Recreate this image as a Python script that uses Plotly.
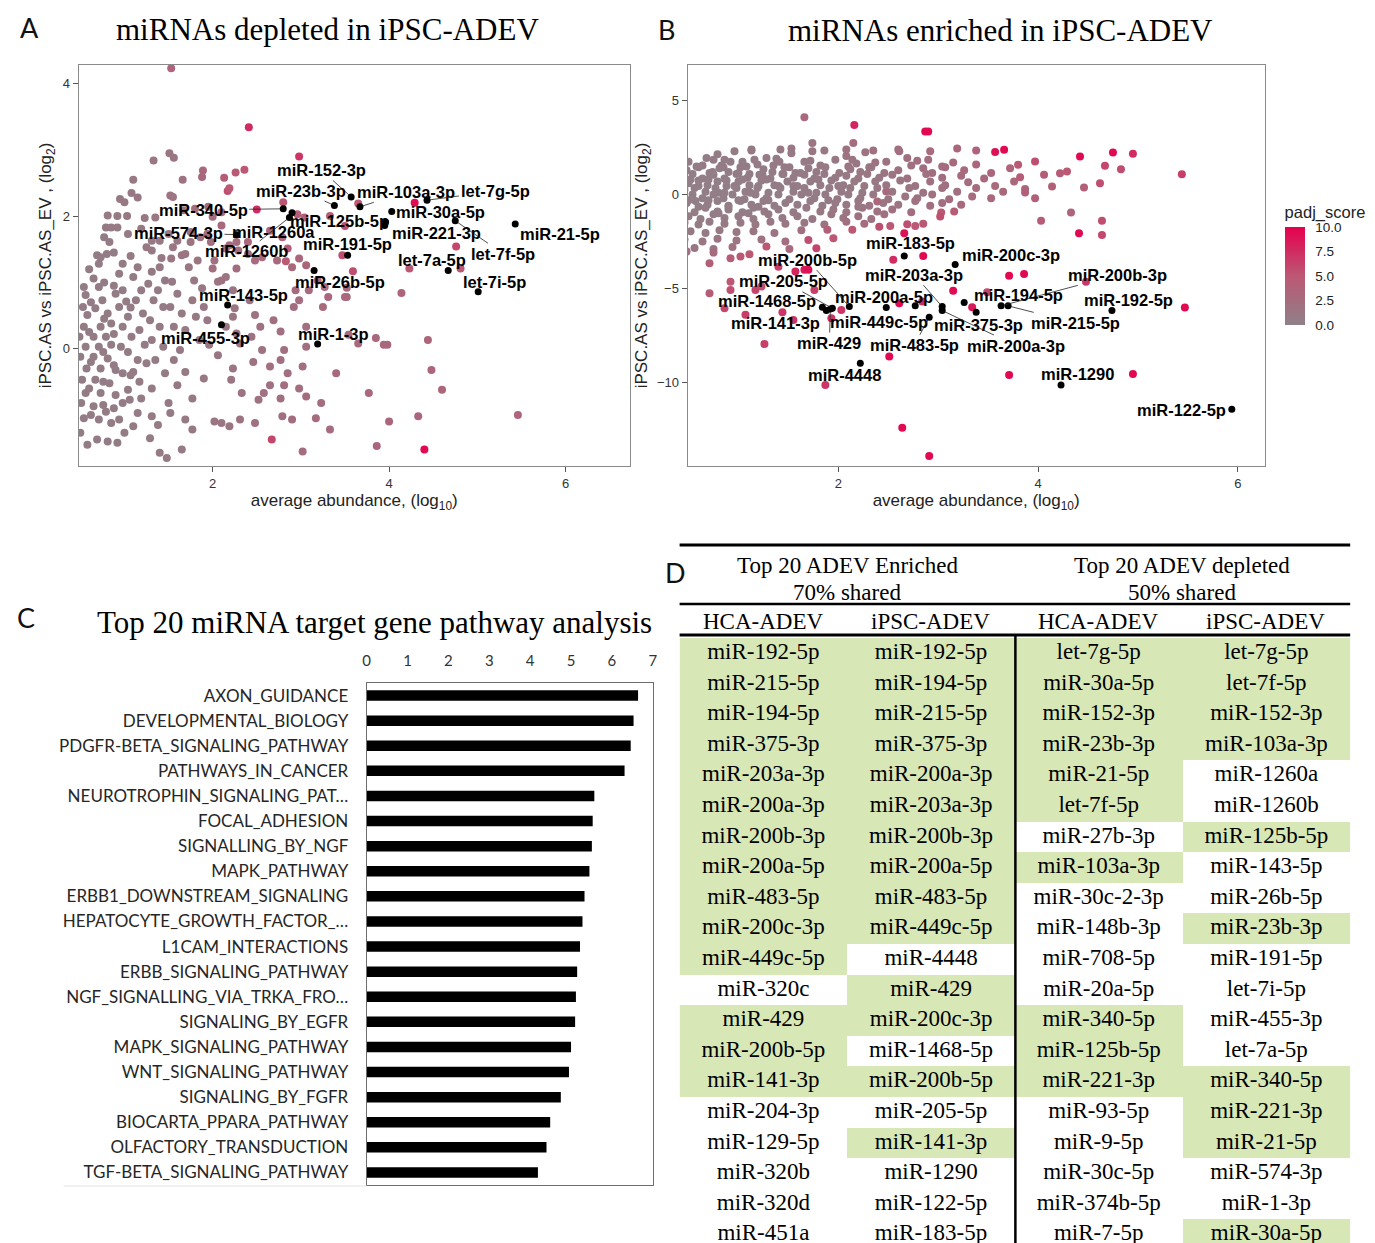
import plotly.graph_objects as go

W, H = 1375, 1243
OFF = 8  # page body margin of the html page


def px(v):
    return (v - OFF) / W


def py(v):
    return 1 - (v - OFF) / H


# ---------------- Panel A data (depleted) ----------------
a_bg_x = [
    0.54, 0.56, 0.53, 0.58, 0.54, 0.49, 0.56, 0.50, 0.57, 0.52,
    0.56, 0.51, 0.54, 0.50, 0.65, 0.71, 0.69, 0.73, 0.80, 0.83,
    0.77, 0.85, 0.71, 0.75, 0.67, 0.81, 0.73, 0.85, 0.65, 0.79,
    0.71, 0.85, 0.65, 0.81, 0.73, 0.90, 0.67, 0.83, 0.73, 0.90,
    0.65, 0.79, 0.71, 0.85, 0.69, 0.81, 0.92, 1.00, 0.94, 0.98,
    0.90, 0.98, 0.94, 1.02, 0.98, 1.04, 0.96, 1.04, 0.98, 1.04,
    0.98, 0.94, 1.15, 1.10, 1.19, 1.13, 1.21, 1.17, 1.08, 1.23,
    1.15, 1.25, 1.10, 1.17, 1.06, 1.19, 1.15, 1.31, 1.10, 1.29,
    1.40, 1.48, 1.31, 1.40, 1.27, 1.38, 1.46, 1.33, 1.44, 1.29,
    1.40, 1.31, 1.44, 1.35, 1.46, 1.31, 1.50, 1.38, 1.52, 1.54,
    1.60, 1.52, 1.65, 1.56, 1.69, 1.63, 1.56, 1.69, 1.60, 1.77,
    1.69, 1.77, 1.65, 1.73, 1.83, 1.79, 1.88, 1.77, 1.90, 1.81,
    1.94, 1.85, 1.96, 1.90, 2.06, 2.02, 2.10, 2.19, 2.06, 2.15,
    2.23, 2.25, 2.23, 2.15, 2.27, 2.31, 2.23, 2.21, 2.33, 2.31,
    2.48, 2.42, 2.48, 2.54, 2.44, 2.56, 2.65, 2.65, 2.46, 2.58,
    2.52, 2.69, 2.77, 2.81, 2.77, 2.85, 2.81, 2.77, 2.90, 2.67,
    2.79, 2.98, 2.92, 3.06, 3.06, 3.02, 2.98, 3.06, 3.23, 3.17,
    3.02, 3.33, 3.19, 3.27, 3.40, 3.52, 3.54, 3.65, 3.77, 3.85,
    3.94, 3.98, 3.86, 4.00, 4.44, 4.48, 4.33, 4.40, 4.60, 5.46,
    1.53, 2.41, 2.98, 1.51, 1.56, 1.33, 1.10, 1.08, 1.15, 0.95,
    1.00, 0.81, 0.92, 1.03, 1.23, 1.35, 1.52, 1.55, 1.66, 1.89,
    1.88, 2.13, 2.26, 2.36, 2.17, 2.19, 1.67, 1.80, 1.95, 2.00,
    2.10, 2.50, 2.80, 2.96, 3.04, 3.33, 3.50, 3.65, 4.29, 4.76,
    4.23, 4.81, 4.14, 3.47, 3.59, 3.52, 3.50, 3.31, 3.25, 3.09,
    2.94, 2.90, 2.83, 2.73, 2.56, 2.40, 2.27, 2.19, 1.98, 1.75,
    1.60, 1.40, 1.53, 1.65, 1.42, 1.31, 1.25, 0.79, 0.92, 1.04,
    1.19, 1.31, 1.50, 1.55, 1.69, 1.75, 1.86, 1.94, 2.10, 2.15,
    2.29, 2.40, 2.48, 2.65, 2.79, 2.85, 2.98, 3.06, 2.02, 2.00,
    2.27, 2.10,
    0.60, 0.62, 0.60, 0.62, 0.60, 0.62, 0.58, 0.77, 0.77, 0.76,
    0.76, 0.76, 0.88, 0.88, 0.88, 0.88, 0.88, 1.07, 1.07, 1.07,
]
a_bg_y = [
    0.93, 0.81, 0.63, 0.51, 0.33, 0.18, 0.03, -0.12, -0.30, -0.47,
    -0.67, -0.82, -1.05, -1.27, 1.06, 1.28, 1.41, 1.38, 1.43, 1.61,
    1.68, 1.83, 0.93, 0.73, 0.61, 0.53, 0.33, 0.38, 0.18, 0.18,
    0.03, 0.06, -0.12, -0.15, -0.30, -0.32, -0.47, -0.52, -0.67, -0.70,
    -0.87, -0.95, -1.07, -1.12, -1.37, -1.40, -1.42, -1.27, 1.13, 1.28,
    0.83, 0.88, 0.63, 0.71, 0.33, 0.48, 0.03, -0.05, -0.37, -0.62,
    -0.82, -1.07, 1.23, 1.08, 0.88, 0.73, 0.53, 0.28, 0.18, 0.06,
    -0.17, -0.22, -0.35, -0.50, -0.77, -0.75, -0.97, -1.02, -1.17, -1.35,
    -1.57, -1.65, 1.16, 1.23, 0.98, 0.88, 1.03, 0.73, 0.63, 0.43,
    0.33, 0.13, 0.03, -0.17, -0.37, -0.60, -0.82, -1.15, -0.97, 1.01,
    0.83, 0.63, 0.53, 0.33, 0.28, -0.02, -0.17, -0.35, -0.55, -0.75,
    -1.07, -1.22, -1.52, 1.23, 1.33, 1.03, 0.91, 0.73, 0.63, 0.48,
    0.43, 0.13, 0.06, -0.45, -0.10, -1.10, -1.12, -1.17, 1.01, 1.08,
    0.88, 0.61, 0.48, 0.33, 0.23, 0.08, -0.30, -0.47, -0.67, -1.07,
    -1.12, 0.73, 0.51, 0.33, 0.18, -0.02, -0.27, -0.55, -0.20, -0.67,
    -0.77, 0.43, 0.26, -0.02, -0.17, -0.37, -0.55, -0.75, -1.07, -1.37,
    -1.02, 0.73, 0.63, 0.33, 0.03, -0.27, -0.60, -0.72, -0.82, -1.05,
    -1.55, -1.22, 1.03, 0.93, -0.37, 0.78, 0.21, 0.08, -0.67, 0.16,
    0.06, 0.06, -1.47, -1.10, 0.13, -0.32, -1.02, -1.52, -0.62, -1.00,
    4.23, 3.34, 2.90, 2.95, 2.88, 2.84, 2.55, 2.35, 2.28, 2.26,
    2.21, 2.01, 2.00, 2.00, 1.97, 1.98, 2.31, 2.29, 2.55, 2.69,
    2.59, 2.58, 2.66, 2.70, 2.38, 2.42, 2.09, 2.11, 2.14, 1.99,
    2.06, 2.10, 2.21, 2.03, 1.98, 2.00, 1.85, 2.19, 2.20, 1.54,
    1.21, 1.21, 0.84, 1.41, 1.17, 0.92, 0.78, 0.78, 0.63, 0.88,
    0.88, 1.23, 1.32, 1.33, 1.38, 1.61, 1.61, 1.56, 1.61, 1.61,
    1.63, 1.63, 1.36, 1.41, 1.37, 1.48, 1.53, 1.83, 1.83, 1.73,
    1.81, 1.63, 1.73, 1.53, 1.43, 1.76, 1.68, 1.73, 1.86, 1.51,
    1.48, 1.43, 1.33, 1.78, 1.68, 1.51, 1.36, 1.26, 1.33, 1.21,
    1.21, 1.03,
    1.20, 0.70, 0.25, -0.20, -0.60, -1.00, -1.45, 1.00, 0.45, -0.05,
    -0.50, -0.85, 1.45, 0.95, 0.22, -0.25, -0.90, 1.40, 0.62, -0.40,
]
a_bg_s = [
    0.5, 0.5, 0.5, 0.5, 0.5, 0.5, 0.5, 0.5, 0.5, 0.5,
    0.5, 0.5, 0.5, 0.5, 0.5, 0.5, 0.5, 0.5, 0.5, 0.5,
    0.5, 0.8, 0.5, 0.5, 0.5, 0.5, 0.5, 0.5, 0.5, 0.5,
    0.5, 0.5, 0.5, 0.5, 0.5, 0.5, 0.5, 0.5, 0.5, 0.5,
    0.5, 0.5, 0.5, 0.5, 0.5, 0.5, 0.5, 0.5, 0.5, 0.5,
    0.5, 0.5, 0.5, 0.5, 0.5, 0.5, 0.5, 0.5, 0.5, 0.5,
    0.5, 0.5, 0.7, 0.6, 0.6, 0.6, 0.6, 0.6, 0.6, 0.6,
    0.6, 0.6, 0.6, 0.6, 0.6, 0.6, 0.6, 0.6, 0.6, 0.6,
    0.6, 0.6, 0.7, 0.7, 0.6, 0.6, 0.7, 0.6, 0.6, 0.6,
    0.6, 0.6, 0.6, 0.6, 0.6, 0.6, 0.7, 0.6, 0.7, 0.8,
    0.8, 0.7, 0.8, 0.7, 0.8, 0.7, 0.7, 0.8, 0.7, 0.9,
    0.8, 0.9, 0.8, 1.0, 1.2, 1.0, 1.0, 0.9, 1.0, 0.9,
    1.0, 0.9, 1.0, 1.0, 1.2, 1.2, 1.2, 1.4, 1.3, 1.4,
    1.4, 1.4, 1.3, 1.3, 1.4, 1.5, 1.4, 1.4, 1.6, 1.6,
    1.8, 1.6, 1.7, 1.8, 1.7, 1.8, 1.9, 1.9, 1.7, 1.9,
    1.8, 2.0, 2.0, 2.0, 2.0, 2.1, 2.1, 2.1, 2.2, 6.0,
    2.1, 2.3, 2.2, 2.3, 2.3, 2.3, 2.3, 2.4, 2.5, 2.5,
    2.4, 2.6, 2.6, 2.6, 2.7, 2.8, 2.8, 2.9, 3.0, 3.0,
    3.1, 3.1, 3.1, 3.2, 3.3, 3.3, 3.3, 9.5, 3.4, 3.5,
    3.5, 7.5, 7.0, 1.2, 1.2, 1.0, 1.0, 1.0, 1.0, 0.9,
    0.9, 0.8, 0.8, 0.9, 1.0, 1.0, 1.5, 1.5, 1.8, 3.0,
    3.0, 4.5, 4.5, 5.0, 5.5, 5.0, 1.6, 2.0, 2.5, 2.5,
    3.5, 7.5, 5.0, 4.5, 4.0, 4.0, 5.5, 5.0, 9.5, 6.0,
    5.0, 5.0, 3.5, 5.5, 5.5, 3.0, 3.0, 3.0, 2.8, 2.6,
    2.5, 3.0, 5.0, 3.0, 2.8, 3.0, 2.8, 2.5, 2.0, 1.5,
    1.3, 1.0, 1.2, 1.3, 1.0, 0.9, 0.9, 0.7, 0.8, 0.8,
    0.9, 0.9, 1.2, 1.2, 1.4, 1.6, 1.8, 2.0, 3.0, 2.4,
    2.5, 2.6, 2.6, 3.2, 3.5, 4.5, 3.2, 3.2, 2.0, 2.0,
    2.2, 1.8,
    0.5, 0.5, 0.5, 0.5, 0.5, 0.5, 0.5, 0.5, 0.5, 0.5,
    0.5, 0.5, 0.5, 0.5, 0.5, 0.5, 0.5, 0.6, 0.6, 0.6,
]

a_lab_names = ["miR-152-3p", "miR-23b-3p", "miR-103a-3p", "let-7g-5p", "miR-340-5p",
               "miR-30a-5p", "miR-574-3p", "miR-1260a", "miR-125b-5p", "miR-221-3p",
               "miR-21-5p", "miR-1260b", "miR-191-5p", "let-7f-5p", "let-7a-5p",
               "let-7i-5p", "miR-26b-5p", "miR-143-5p", "miR-455-3p", "miR-1-3p"]
a_lab_x = [3.57, 3.38, 3.67, 4.43, 2.80, 4.03, 2.27, 2.90, 3.96, 3.95,
           5.43, 2.87, 3.53, 4.75, 4.67, 5.01, 3.15, 2.17, 2.10, 3.19]
a_lab_y = [2.29, 2.16, 2.14, 2.24, 2.11, 2.07, 1.72, 2.05, 1.91, 1.86,
           1.88, 1.98, 1.41, 1.93, 1.18, 0.86, 1.18, 0.66, 0.36, 0.07]

# ---------------- Panel B data (enriched) ----------------
b_bg_x = [
    0.79, 0.86, 0.96, 1.13, 1.28, 1.41, 1.53, 1.72, 1.86, 2.08, 2.14, 2.27, 2.37, 2.61, 2.69, 2.79,
    0.64, 0.75, 0.85, 1.04, 1.19, 1.38, 1.51, 1.66, 1.82, 1.97, 2.18, 2.31, 2.48, 2.73, 2.90, 3.04, 3.15, 3.38,
    0.48, 0.60, 0.71, 0.81, 0.90, 1.02, 1.11, 1.25, 1.34, 1.46, 1.57, 1.70, 1.78, 1.87, 2.01, 2.12, 2.22, 2.33, 2.46, 2.60, 2.85, 2.94, 3.07, 3.26, 3.53, 3.72,
    0.45, 0.54, 0.64, 0.75, 0.86, 0.98, 1.09, 1.21, 1.32, 1.44, 1.55, 1.66, 1.76, 1.86, 1.97, 2.08, 2.20, 2.29, 2.41, 2.54, 2.69, 2.88, 3.04, 3.23, 3.46,
    0.50, 0.60, 0.69, 0.79, 0.88, 1.00, 1.11, 1.23, 1.36, 1.49, 1.59, 1.72, 1.82, 1.93, 2.05, 2.16, 2.26, 2.37, 2.48, 2.62, 2.77, 2.92, 3.07, 3.30, 3.57, 3.76,
    0.46, 0.56, 0.67, 0.77, 0.86, 0.98, 1.07, 1.19, 1.30, 1.42, 1.55, 1.66, 1.78, 1.91, 2.03, 2.12, 2.24, 2.39, 2.54, 2.71, 2.85, 3.04, 3.19, 3.38, 3.65, 3.87,
    0.45, 0.54, 0.64, 0.75, 0.85, 0.94, 1.06, 1.17, 1.28, 1.40, 1.51, 1.63, 1.76, 1.87, 1.99, 2.10, 2.22, 2.35, 2.50, 2.67, 2.79, 2.94, 3.11, 3.34, 3.53,
    0.48, 0.57, 0.69, 0.79, 0.90, 1.02, 1.13, 1.25, 1.36, 1.47, 1.59, 1.72, 1.84, 1.97, 2.08, 2.20, 2.31, 2.45, 2.60, 2.77, 2.92, 3.04, 3.23,
    0.45, 0.56, 0.67, 0.79, 0.90, 1.04, 1.15, 1.26, 1.40, 1.55, 1.68, 1.82, 1.95, 2.08, 2.24, 2.39, 2.54, 2.73,
    0.50, 0.62, 0.75, 0.86, 1.00, 1.15, 1.30, 1.44, 1.59, 1.74, 1.93, 2.05, 2.20, 2.33, 2.46,
    0.46, 0.60, 0.71, 0.86, 1.02, 1.17, 1.32, 1.47, 1.66, 1.86, 2.08, 2.26,
    0.52, 0.67, 0.81, 0.98, 1.15, 1.36, 1.63,
    0.46, 0.64, 0.79, 0.98, 1.23, 1.47,
    0.56, 0.75, 0.94, 1.51,
    1.13, 1.42, 1.53, 1.74, 2.08, 2.35, 2.60, 2.92, 3.19, 3.38,
    1.74, 2.15,
    0.50, 0.58, 0.68, 0.74, 0.83, 0.92, 1.00, 1.08, 1.16, 1.24,
    0.52, 0.60, 0.70, 0.80, 0.88, 0.96, 1.04, 1.12, 1.20, 1.28,
    0.50, 0.60, 0.70, 0.80, 0.90, 1.00, 1.10, 1.20, 1.30, 1.40,
    1.35, 1.45, 1.55, 1.62, 1.70, 1.80, 1.90, 2.00, 2.10, 2.20,
    1.66, 2.16, 2.87, 2.90, 3.57, 3.66, 4.42, 4.75, 4.95, 5.44,
    4.67, 4.83, 4.62, 4.29, 4.22, 3.97, 3.80, 3.82, 4.06, 4.14,
    4.46, 4.33, 4.64, 4.64, 4.41, 4.48, 4.03, 3.71, 3.86, 3.15,
    3.34, 3.49, 2.85, 2.66, 2.55, 2.61, 2.84, 2.51, 2.64, 2.91,
    3.71, 4.95, 5.47, 1.87, 1.26, 1.55, 1.44, 1.07, 0.86, 0.71,
    0.92, 0.92, 1.17, 1.23, 1.57, 1.66, 1.70, 1.40, 1.76, 2.03,
    1.93, 0.71, 1.02, 1.11, 0.92, 1.28, 0.75, 0.48, 1.78, 1.95,
    1.70, 1.89, 2.14, 2.41, 2.52, 2.39, 2.48, 2.69, 2.77, 2.85,
    3.03, 3.02, 3.16, 3.97, 3.87,
]
b_bg_y = [
    2.15, 1.85, 2.3, 2.4, 1.95, 1.75, 2.2, 1.8, 2.35, 2.05, 1.85, 2.25, 1.7, 2.3, 1.95, 1.8,
    1.55, 1.85, 1.45, 1.75, 1.6, 1.9, 1.45, 1.75, 1.55, 1.85, 1.65, 1.45, 1.75, 1.55, 1.85, 1.5, 1.7, 1.6,
    1.3, 1.45, 1.15, 1.4, 1.2, 1.45, 1.1, 1.35, 1.2, 1.45, 1.15, 1.4, 1.2, 1.45, 1.15, 1.35, 1.2, 1.45, 1.15, 1.3, 1.4, 1.15, 1.45, 1.3, 1.15, 1.4,
    0.95, 1.1, 0.85, 1.05, 0.85, 1.1, 0.9, 1.05, 0.85, 1.1, 0.9, 1.05, 0.85, 1.1, 0.9, 1.0, 0.85, 1.1, 0.9, 1.05, 0.85, 1.1, 0.9, 1.0, 0.85,
    0.6, 0.75, 0.5, 0.7, 0.45, 0.7, 0.5, 0.75, 0.5, 0.7, 0.45, 0.7, 0.5, 0.75, 0.5, 0.7, 0.45, 0.7, 0.5, 0.75, 0.45, 0.7, 0.5, 0.65, 0.45, 0.7,
    0.25, 0.35, 0.15, 0.35, 0.1, 0.35, 0.15, 0.35, 0.1, 0.35, 0.15, 0.35, 0.1, 0.35, 0.15, 0.35, 0.1, 0.35, 0.15, 0.35, 0.1, 0.35, 0.15, 0.35, 0.15, 0.3,
    -0.1, 0.0, -0.2, 0.0, -0.2, 0.0, -0.25, 0.0, -0.2, 0.0, -0.25, 0.0, -0.2, 0.0, -0.25, 0.0, -0.2, 0.0, -0.25, -0.1, -0.2, 0.0, -0.25, -0.1, -0.2,
    -0.45, -0.35, -0.55, -0.35, -0.6, -0.35, -0.55, -0.35, -0.6, -0.45, -0.55, -0.35, -0.6, -0.45, -0.55, -0.35, -0.6, -0.45, -0.55, -0.35, -0.6, -0.45, -0.55,
    -0.8, -0.95, -0.7, -0.9, -0.8, -0.95, -0.7, -0.9, -0.8, -0.95, -0.7, -0.9, -0.8, -0.95, -0.7, -0.9, -0.8, -0.95,
    -1.15, -1.3, -1.05, -1.25, -1.15, -1.3, -1.05, -1.25, -1.15, -1.3, -1.05, -1.25, -1.15, -1.3, -1.05,
    -1.5, -1.6, -1.45, -1.55, -1.5, -1.6, -1.45, -1.55, -1.5, -1.6, -1.45, -1.55,
    -1.95, -2.05, -1.9, -2.0, -1.95, -2.05, -1.9,
    -2.4, -2.5, -2.35, -2.45, -2.4, -2.5,
    -2.85, -2.9, -2.8, -2.9,
    2.35, 2.4, 2.45, 2.3, 2.4, 2.35, 2.4, 2.3, 2.45, 2.35,
    2.74, 2.74,
    1.75, 1.50, 1.95, 1.20, 1.55, 1.75, 1.15, 1.50, 1.85, 1.05,
    0.80, 0.45, 0.80, 0.10, 0.75, 0.45, 0.80, 0.10, 0.45, 0.80,
    -0.30, -0.65, -0.30, -1.00, -0.65, -0.30, -1.00, -0.65, -0.30, 0.45,
    1.55, 1.10, 0.45, 1.15, 0.10, 0.80, -0.30, 0.45, 1.50, -0.65,
    4.12, 3.71, 3.36, 3.36, 2.26, 2.38, 2.02, 2.24, 2.17, 1.08,
    1.53, 1.35, 0.60, 1.23, 1.14, 1.76, 1.58, 0.92, 1.05, 0.43,
    0.37, -0.96, -1.40, -2.15, -2.06, -4.64, -1.40, -4.33, -4.23, -5.12,
    -6.00, -5.20, -3.27, -2.06, -3.48, -5.79, -5.70, -8.63, -12.42, -13.93,
    -9.61, -9.56, -6.02, -10.14, -7.96, -6.68, -6.27, -6.41, -6.06, -5.26,
    -4.64, -5.08, -5.08, -4.90, -4.10, -4.01, -4.01, -3.84, -5.08, -6.15,
    -6.59, -3.66, -3.30, -3.18, -3.39, -2.77, -3.09, -3.04, -2.86, -2.33,
    -2.42, -1.88, -1.88, -1.71, -1.67, -0.37, 0.16, -1.58, -1.67, -1.56,
    -0.96, -1.17, -0.91, -0.20, 0.11,
]
b_bg_s = [
    0.5, 0.5, 0.5, 0.6, 0.6, 0.7, 0.8, 0.9, 1.0, 1.2, 1.3, 1.5, 1.6, 2.0, 2.1, 2.3,
    0.5, 0.5, 0.5, 0.5, 0.6, 0.6, 0.7, 0.8, 0.9, 1.0, 1.2, 1.4, 1.6, 2.0, 2.3, 2.5, 2.7, 3.2,
    0.4, 0.4, 0.4, 0.4, 0.5, 0.5, 0.5, 0.5, 0.5, 0.6, 0.6, 0.7, 0.7, 0.8, 0.9, 1.0, 1.1, 1.2, 1.4, 1.6, 2.0, 2.2, 2.4, 2.8, 3.2, 3.5,
    0.4, 0.4, 0.4, 0.4, 0.4, 0.5, 0.5, 0.5, 0.5, 0.6, 0.6, 0.6, 0.7, 0.7, 0.8, 0.9, 1.0, 1.1, 1.2, 1.4, 1.6, 1.9, 2.2, 2.5, 2.9,
    0.3, 0.3, 0.3, 0.3, 0.4, 0.4, 0.4, 0.4, 0.5, 0.5, 0.5, 0.6, 0.6, 0.7, 0.8, 0.8, 0.9, 1.0, 1.1, 1.3, 1.5, 1.8, 2.0, 2.4, 2.8, 3.0,
    0.3, 0.3, 0.3, 0.3, 0.3, 0.3, 0.4, 0.4, 0.4, 0.4, 0.5, 0.5, 0.5, 0.6, 0.7, 0.7, 0.8, 1.0, 1.1, 1.4, 1.6, 1.9, 2.1, 2.5, 2.9, 3.2,
    0.3, 0.3, 0.3, 0.3, 0.3, 0.3, 0.4, 0.4, 0.4, 0.4, 0.5, 0.5, 0.6, 0.6, 0.7, 0.8, 0.9, 1.0, 1.2, 1.4, 1.6, 1.9, 2.2, 2.6, 2.9,
    0.3, 0.3, 0.3, 0.4, 0.4, 0.4, 0.4, 0.5, 0.5, 0.5, 0.6, 0.6, 0.7, 0.8, 0.9, 1.0, 1.1, 1.3, 1.5, 1.8, 2.1, 2.3, 2.7,
    0.3, 0.4, 0.4, 0.4, 0.5, 0.5, 0.5, 0.6, 0.6, 0.7, 0.8, 0.9, 1.0, 1.2, 1.4, 1.6, 1.9, 2.2,
    0.4, 0.4, 0.5, 0.5, 0.6, 0.6, 0.7, 0.8, 0.9, 1.0, 1.2, 1.4, 1.6, 1.8, 2.0,
    0.5, 0.5, 0.6, 0.7, 0.8, 0.9, 1.0, 1.1, 1.3, 1.6, 2.0, 2.4,
    0.7, 0.8, 0.9, 1.0, 1.2, 1.5, 2.0,
    1.0, 1.1, 1.3, 1.5, 1.8, 2.3,
    1.3, 1.5, 1.8, 2.8,
    0.7, 0.9, 1.0, 1.2, 1.6, 1.9, 2.3, 2.8, 3.3, 3.6,
    1.5, 2.5,
    0.5, 0.5, 0.5, 0.4, 0.5, 0.5, 0.5, 0.5, 0.6, 0.5,
    0.3, 0.3, 0.3, 0.3, 0.4, 0.4, 0.4, 0.4, 0.4, 0.5,
    0.3, 0.3, 0.3, 0.4, 0.4, 0.4, 0.5, 0.5, 0.5, 0.5,
    0.7, 0.6, 0.5, 0.8, 0.6, 0.7, 0.7, 0.8, 1.2, 0.9,
    3.0, 8.0, 9.5, 9.5, 9.0, 9.5, 9.5, 9.5, 7.5, 6.5,
    6.0, 5.5, 5.5, 5.0, 4.5, 5.5, 5.0, 4.5, 4.5, 4.0,
    4.0, 3.5, 5.5, 6.0, 9.5, 7.0, 4.5, 9.5, 9.5, 9.5,
    8.5, 6.0, 9.5, 9.0, 7.5, 9.5, 7.5, 9.5, 9.5, 9.5,
    9.5, 9.5, 9.5, 7.0, 6.5, 7.0, 7.0, 6.5, 6.0, 4.5,
    5.0, 5.5, 6.0, 5.5, 8.0, 8.5, 9.0, 6.5, 6.5, 7.0,
    7.0, 4.0, 5.0, 5.0, 4.5, 5.0, 2.5, 2.0, 6.0, 5.0,
    5.5, 4.0, 5.0, 5.5, 5.0, 3.0, 2.5, 5.5, 5.0, 5.0,
    5.0, 5.5, 4.5, 4.0, 4.0,
]

b_lab_names = ["miR-183-5p", "miR-200c-3p", "miR-200b-5p", "miR-203a-3p", "miR-200b-3p",
               "miR-205-5p", "miR-200a-5p", "miR-194-5p", "miR-192-5p", "miR-1468-5p",
               "miR-215-5p", "miR-375-3p", "miR-141-3p", "miR-449c-5p", "miR-429",
               "miR-483-5p", "miR-200a-3p", "miR-4448", "miR-1290", "miR-122-5p"]
b_lab_x = [2.66, 3.17, 2.11, 3.04, 3.63, 1.94, 2.48, 3.26, 4.74, 1.84,
           3.70, 3.38, 1.88, 2.77, 1.92, 2.91, 3.04, 2.22, 4.23, 5.94]
b_lab_y = [-3.27, -3.73, -5.97, -5.97, -5.93, -6.06, -6.02, -5.75, -6.18, -6.00,
           -5.93, -6.27, -6.18, -5.93, -6.10, -6.54, -6.18, -8.99, -10.14, -11.44]

# ---------------- Panel C data ----------------
c_pathways = ["AXON_GUIDANCE", "DEVELOPMENTAL_BIOLOGY", "PDGFR-BETA_SIGNALING_PATHWAY",
              "PATHWAYS_IN_CANCER", "NEUROTROPHIN_SIGNALING_PAT…", "FOCAL_ADHESION",
              "SIGNALLING_BY_NGF", "MAPK_PATHWAY", "ERBB1_DOWNSTREAM_SIGNALING",
              "HEPATOCYTE_GROWTH_FACTOR_…", "L1CAM_INTERACTIONS", "ERBB_SIGNALING_PATHWAY",
              "NGF_SIGNALLING_VIA_TRKA_FRO…", "SIGNALING_BY_EGFR", "MAPK_SIGNALING_PATHWAY",
              "WNT_SIGNALING_PATHWAY", "SIGNALING_BY_FGFR", "BIOCARTA_PPARA_PATHWAY",
              "OLFACTORY_TRANSDUCTION", "TGF-BETA_SIGNALING_PATHWAY"]
c_values = [6.64, 6.53, 6.46, 6.31, 5.57, 5.53, 5.51, 5.45, 5.33, 5.28,
            5.22, 5.15, 5.12, 5.10, 5.00, 4.95, 4.75, 4.49, 4.40, 4.19]
c_ticks = [0, 1, 2, 3, 4, 5, 6, 7]

# ---------------- Panel D data ----------------
d_headers = ["HCA-ADEV", "iPSC-ADEV", "HCA-ADEV", "iPSC-ADEV"]
d_enr_hca = ["miR-192-5p", "miR-215-5p", "miR-194-5p", "miR-375-3p", "miR-203a-3p",
             "miR-200a-3p", "miR-200b-3p", "miR-200a-5p", "miR-483-5p", "miR-200c-3p",
             "miR-449c-5p", "miR-320c", "miR-429", "miR-200b-5p", "miR-141-3p",
             "miR-204-3p", "miR-129-5p", "miR-320b", "miR-320d", "miR-451a"]
d_enr_ipsc = ["miR-192-5p", "miR-194-5p", "miR-215-5p", "miR-375-3p", "miR-200a-3p",
              "miR-203a-3p", "miR-200b-3p", "miR-200a-5p", "miR-483-5p", "miR-449c-5p",
              "miR-4448", "miR-429", "miR-200c-3p", "miR-1468-5p", "miR-200b-5p",
              "miR-205-5p", "miR-141-3p", "miR-1290", "miR-122-5p", "miR-183-5p"]
d_dep_hca = ["let-7g-5p", "miR-30a-5p", "miR-152-3p", "miR-23b-3p", "miR-21-5p",
             "let-7f-5p", "miR-27b-3p", "miR-103a-3p", "miR-30c-2-3p", "miR-148b-3p",
             "miR-708-5p", "miR-20a-5p", "miR-340-5p", "miR-125b-5p", "miR-221-3p",
             "miR-93-5p", "miR-9-5p", "miR-30c-5p", "miR-374b-5p", "miR-7-5p"]
d_dep_ipsc = ["let-7g-5p", "let-7f-5p", "miR-152-3p", "miR-103a-3p", "miR-1260a",
              "miR-1260b", "miR-125b-5p", "miR-143-5p", "miR-26b-5p", "miR-23b-3p",
              "miR-191-5p", "let-7i-5p", "miR-455-3p", "let-7a-5p", "miR-340-5p",
              "miR-221-3p", "miR-21-5p", "miR-574-3p", "miR-1-3p", "miR-30a-5p"]
# 1 = shared (highlighted green)
g_enr_hca = [1, 1, 1, 1, 1, 1, 1, 1, 1, 1, 1, 0, 1, 1, 1, 0, 0, 0, 0, 0]
g_enr_ipsc = [1, 1, 1, 1, 1, 1, 1, 1, 1, 1, 0, 1, 1, 0, 1, 0, 1, 0, 0, 0]
g_dep_hca = [1, 1, 1, 1, 1, 1, 0, 1, 0, 0, 0, 0, 1, 1, 1, 0, 0, 0, 0, 0]
g_dep_ipsc = [1, 1, 1, 1, 0, 0, 1, 0, 0, 1, 0, 0, 0, 0, 1, 1, 1, 0, 0, 1]

# ---------------- label placement (layout only) ----------------
A_OFFSETS = {
    "miR-152-3p": (-30, -27, True), "miR-23b-3p": (-33, -15, True),
    "miR-103a-3p": (46, -15, True), "let-7g-5p": (68, -9, True),
    "miR-340-5p": (-80, 1, True), "miR-30a-5p": (49, 1, False),
    "miR-574-3p": (-58, -2, True), "miR-1260a": (-19, 19, False),
    "miR-125b-5p": (-46, -1, False), "miR-221-3p": (52, 8, False),
    "miR-21-5p": (45, 10, False), "miR-1260b": (-43, 34, True),
    "miR-191-5p": (0, -11, False), "let-7f-5p": (48, 33, True),
    "let-7a-5p": (-16, -10, False), "let-7i-5p": (16, -10, False),
    "miR-26b-5p": (26, 12, False), "miR-143-5p": (16, -10, False),
    "miR-455-3p": (-16, 13, False), "miR-1-3p": (16, -10, False),
}
B_OFFSETS = {
    "miR-183-5p": (6, -13, False), "miR-200c-3p": (56, -10, False),
    "miR-200b-5p": (-42, -47, True), "miR-203a-3p": (-28, -32, True),
    "miR-200b-3p": (116, -31, True), "miR-205-5p": (-49, -27, True),
    "miR-200a-5p": (-2, -11, False), "miR-194-5p": (54, -7, False),
    "miR-192-5p": (17, -11, False), "miR-1468-5p": (-55, -6, False),
    "miR-215-5p": (67, 17, True), "miR-375-3p": (2, 13, False),
    "miR-141-3p": (-51, 12, False), "miR-449c-5p": (-36, 16, False),
    "miR-429": (-1, 34, True), "miR-483-5p": (-15, 28, True),
    "miR-200a-3p": (74, 35, True), "miR-4448": (-16, 12, False),
    "miR-1290": (16, -11, False), "miR-122-5p": (-50, 1, False),
}

SANS = "Liberation Sans"
SERIF = "Liberation Serif"
colorscale = [[0.0, "#8f8088"], [0.5, "#bb5874"], [1.0, "#e6004f"]]

fig = go.Figure()

# Panel A
fig.add_trace(go.Scatter(x=a_bg_x, y=a_bg_y, mode="markers", xaxis="x", yaxis="y",
                         marker=dict(size=8, color=a_bg_s, coloraxis="coloraxis", line=dict(width=0)),
                         hoverinfo="skip", showlegend=False))
fig.add_trace(go.Scatter(x=a_lab_x, y=a_lab_y, mode="markers", xaxis="x", yaxis="y",
                         marker=dict(size=7, color="black"), hoverinfo="skip", showlegend=False))
# Panel B
fig.add_trace(go.Scatter(x=b_bg_x, y=b_bg_y, mode="markers", xaxis="x2", yaxis="y2",
                         marker=dict(size=8, color=b_bg_s, coloraxis="coloraxis", line=dict(width=0)),
                         hoverinfo="skip", showlegend=False))
fig.add_trace(go.Scatter(x=b_lab_x, y=b_lab_y, mode="markers", xaxis="x2", yaxis="y2",
                         marker=dict(size=7, color="black"), hoverinfo="skip", showlegend=False))
# Panel C
fig.add_trace(go.Bar(x=c_values, y=c_pathways, orientation="h", xaxis="x3", yaxis="y3",
                     marker=dict(color="black", line=dict(width=0)), width=0.42,
                     hoverinfo="skip", showlegend=False))
# Panel D
d_cols = [d_enr_hca, d_enr_ipsc, d_dep_hca, d_dep_ipsc]
d_flags = [g_enr_hca, g_enr_ipsc, g_dep_hca, g_dep_ipsc]
d_z = [[d_flags[c][r] for c in range(4)] for r in range(len(d_enr_hca))]
fig.add_trace(go.Heatmap(z=d_z, x=list(range(4)), y=list(range(len(d_enr_hca))),
                         colorscale=[[0, "#ffffff"], [1, "#d7e7b6"]], zmin=0, zmax=1,
                         showscale=False, xaxis="x4", yaxis="y4", hoverinfo="skip", xgap=0, ygap=0))
fig.add_trace(go.Scatter(
    x=[ci for ci, col in enumerate(d_cols) for _ in col],
    y=[ri for col in d_cols for ri in range(len(col))],
    text=[t for col in d_cols for t in col],
    mode="text", textposition="middle center", cliponaxis=False,
    textfont=dict(family=SERIF, size=23, color="black"),
    xaxis="x4", yaxis="y4", hoverinfo="skip", showlegend=False))

annotations = []


def add_labels(names, xs, ys, offsets, xref, yref):
    for n, x, y in zip(names, xs, ys):
        dx, dy, lead = offsets[n]
        a = dict(x=x, y=y, xref=xref, yref=yref, text="<b>" + n + "</b>",
                 font=dict(family=SANS, size=16.5, color="black"))
        if lead:
            a.update(showarrow=True, ax=dx, ay=dy, arrowhead=0, arrowwidth=0.8,
                     arrowcolor="#222", standoff=3, startstandoff=0)
        else:
            a.update(showarrow=False, xshift=dx, yshift=-dy)
        annotations.append(a)


add_labels(a_lab_names, a_lab_x, a_lab_y, A_OFFSETS, "x", "y")
add_labels(b_lab_names, b_lab_x, b_lab_y, B_OFFSETS, "x2", "y2")


def txt(text, x, y, size, family, color="black", xanchor="center"):
    annotations.append(dict(text=text, x=px(x), y=py(y), xref="paper", yref="paper",
                            xanchor=xanchor, yanchor="middle", showarrow=False,
                            font=dict(size=size, family=family, color=color)))


txt("miRNAs depleted in iPSC-ADEV", 326, 29, 31, SERIF)
txt("miRNAs enriched in iPSC-ADEV", 1003, 30, 31, SERIF)
txt("Top 20 miRNA target gene pathway analysis", 373, 622, 31, SERIF)
for letter, lx, ly in [("A", 26, 27), ("B", 667, 29), ("C", 22, 617), ("D", 676, 572)]:
    txt(letter, lx, ly, 27, "Lato", "#111")
txt("Top 20 ADEV Enriched", 849, 565, 23, SERIF)
txt("70% shared", 849, 592, 23, SERIF)
txt("Top 20 ADEV depleted", 1186, 565, 23, SERIF)
txt("50% shared", 1186, 592, 23, SERIF)
for i, hname in enumerate(d_headers):
    txt(hname, 764 + i * 168.75, 621, 23, SERIF)

shapes = [
    dict(type="line", xref="paper", yref="paper", x0=px(680), x1=px(1355), y0=py(545), y1=py(545),
         line=dict(color="black", width=3)),
    dict(type="line", xref="paper", yref="paper", x0=px(680), x1=px(1355), y0=py(604), y1=py(604),
         line=dict(color="black", width=2.5)),
    dict(type="line", xref="paper", yref="paper", x0=px(680), x1=px(1355), y0=py(635), y1=py(635),
         line=dict(color="black", width=3)),
    dict(type="line", xref="paper", yref="paper", x0=px(1018), x1=px(1018), y0=py(635), y1=0,
         line=dict(color="black", width=2.5)),
    dict(type="line", xref="paper", yref="paper", x0=px(60), x1=px(365), y0=py(1186), y1=py(1186),
         line=dict(color="#e2e2e2", width=1)),
]

tickfont = dict(family=SANS, size=13, color="#333")
titlefont = dict(family=SANS, size=17, color="#222")
scatter_axis = dict(showline=True, mirror=True, linecolor="#8a8a8a", linewidth=1,
                    ticks="outside", ticklen=5, tickcolor="#555", showgrid=False,
                    zeroline=False, tickfont=tickfont)

# table rows: 30.6 px tall, first row starts at y=638
d_rows_visible = (H - (638 - OFF)) / 30.6

fig.update_layout(
    width=W, height=H, margin=dict(l=0, r=0, t=0, b=0), autosize=False,
    paper_bgcolor="white", plot_bgcolor="white", showlegend=False,
    xaxis=dict(domain=[px(75), px(630)], range=[0.48, 6.73], tickvals=[2, 4, 6], anchor="y",
               title=dict(text="average abundance, (log<sub>10</sub>)", font=titlefont, standoff=4),
               **scatter_axis),
    yaxis=dict(domain=[py(466), py(65)], range=[-1.77, 4.28], tickvals=[0, 2, 4], anchor="x",
               title=dict(text="iPSC.AS vs iPSC.AS_EV , (log<sub>2</sub>)", font=titlefont, standoff=6),
               **scatter_axis),
    xaxis2=dict(domain=[px(688), px(1269)], range=[0.49, 6.27], tickvals=[2, 4, 6], anchor="y2",
                title=dict(text="average abundance, (log<sub>10</sub>)", font=titlefont, standoff=4),
                **scatter_axis),
    yaxis2=dict(domain=[py(466), py(65)], range=[-14.46, 6.9], tickvals=[-10, -5, 0, 5], anchor="x2",
                title=dict(text="iPSC.AS vs iPSC.AS_EV , (log<sub>2</sub>)", font=titlefont, standoff=4),
                **scatter_axis),
    xaxis3=dict(domain=[px(365), px(653)], range=[0, 7], tickvals=c_ticks, side="top", anchor="y3",
                showline=True, mirror=True, linecolor="#6e6e6e", linewidth=1, ticks="",
                showgrid=False, zeroline=False, ticklabelstandoff=10,
                tickfont=dict(family="Lato", size=15, color="#333")),
    yaxis3=dict(domain=[py(1185), py(683)], autorange="reversed", anchor="x3", type="category",
                showline=True, mirror=True, linecolor="#6e6e6e", linewidth=1, ticks="",
                showgrid=False, zeroline=False, ticklabelstandoff=14,
                tickfont=dict(family="Lato", size=17, color="#262626")),
    xaxis4=dict(domain=[px(680), px(1355)], range=[-0.5, 3.5], anchor="y4", visible=False,
                fixedrange=True),
    yaxis4=dict(domain=[0, py(638)], range=[-0.5 + d_rows_visible, -0.5], anchor="x4", visible=False,
                fixedrange=True),
    coloraxis=dict(
        colorscale=colorscale, cmin=0, cmax=10,
        colorbar=dict(x=px(1289), xanchor="left", y=py(325), yanchor="bottom",
                      len=(325 - 203) / H, lenmode="fraction", thickness=20, thicknessmode="pixels",
                      xpad=0, ypad=0, outlinewidth=0,
                      tickvals=[0, 2.5, 5, 7.5, 10], ticktext=["0.0", "2.5", "5.0", "7.5", "10.0"],
                      ticks="outside", ticklen=8, tickcolor="rgba(255,255,255,0)",
                      tickfont=dict(family=SANS, size=13.5, color="#222"),
                      title=dict(text="padj_score", side="top",
                                 font=dict(family=SANS, size=16.5, color="#222")))),
    annotations=annotations,
    shapes=shapes,
)

fig.write_html("out.html")
